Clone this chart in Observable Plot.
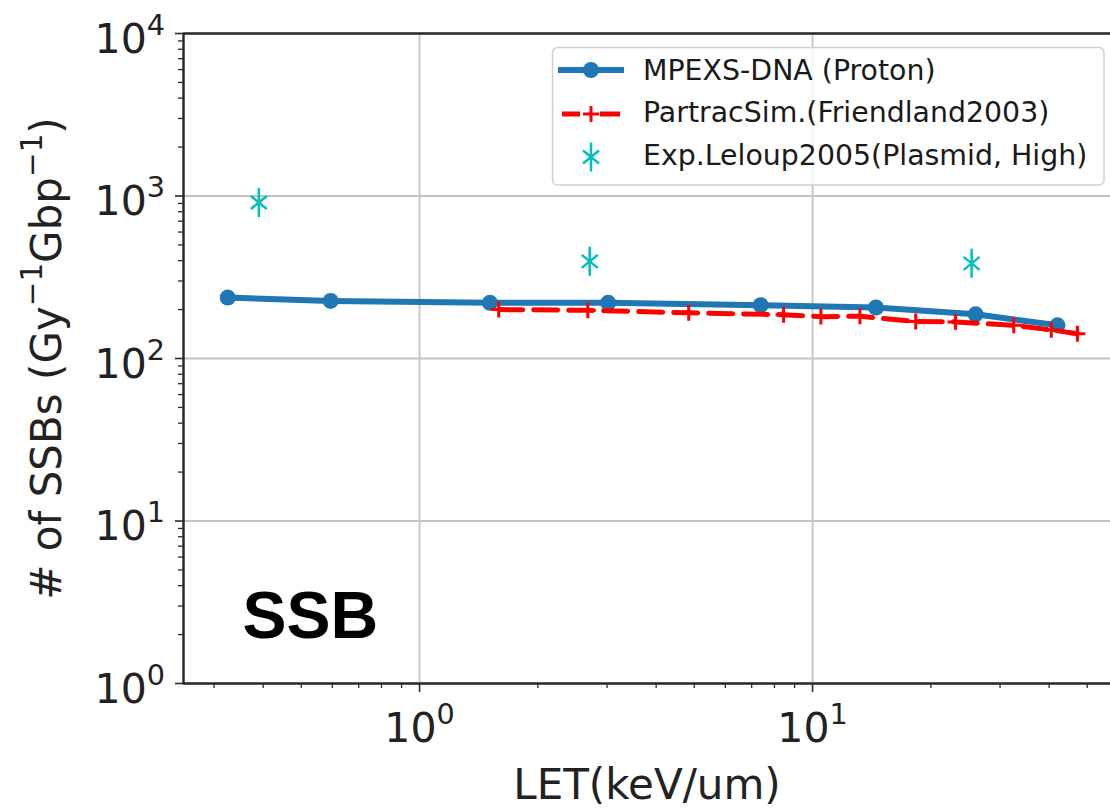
<!DOCTYPE html>
<html><head><meta charset="utf-8">
<script src="https://cdn.jsdelivr.net/npm/d3@7"></script>
<script src="https://cdn.jsdelivr.net/npm/@observablehq/plot@0.6"></script>
<style>
body{margin:0;background:#fff;}
#wrap{position:relative;width:1110px;height:809px;overflow:hidden;font-family:"DejaVu Sans",sans-serif;background:#fff;}
#legend{position:absolute;left:0;top:0;pointer-events:none;}
</style></head><body>
<div id="wrap"></div>
<script>
// ---- data ----
const mpexsLET = [0.325, 0.594, 1.51, 3.02, 7.38, 14.5, 26.0, 42.0];
const mpexsSSB = [237, 226, 220, 220, 213, 206, 187, 160];

const partracLET = [1.59, 2.68, 4.84, 8.44, 10.5, 13.2, 18.3, 23.1, 32.5, 40.5, 47.2];
const partracSSB = [200, 198, 191, 186, 181, 182, 169, 168, 160, 150, 142];

const leloupLET = [0.39, 2.71, 25.4];
const leloupSSB = [912, 396, 385];

const seriesNames = ["MPEXS-DNA (Proton)", "PartracSim.(Friendland2003)", "Exp.Leloup2005(Plasmid, High)"];

const xDomain = [0.2508, 57.3];
const yDomain = [1, 10000];
const xMajor = [1, 10];
const xMajorLabels = ["10^{0}", "10^{1}"];
const yMajor = [1, 10, 100, 1000, 10000];
const yMajorLabels = ["10^{0}", "10^{1}", "10^{2}", "10^{3}", "10^{4}"];
const xLabel = "LET(keV/um)";
const yLabel = "# of SSBs (Gy^{−1}Gbp^{−1})";
const panelLabel = "SSB";

// minor tick positions (2..9 × decades)
const xMinor = [], yMinor = [];
for (const dec of [0.1, 1, 10]) for (let k = 2; k <= 9; k++) { const v = k * dec; if (v > xDomain[0] && v < xDomain[1]) xMinor.push(v); }
for (const dec of [1, 10, 100, 1000]) for (let k = 2; k <= 9; k++) yMinor.push(k * dec);

const mpexs = mpexsLET.map((x, i) => ({x, y: mpexsSSB[i]}));
const partrac = partracLET.map((x, i) => ({x, y: partracSSB[i]}));
const leloup = leloupLET.map((x, i) => ({x, y: leloupSSB[i]}));

const BLUE = "#1f77b4", RED = "#ff0000", CYAN = "#00bfbf";
const starPath = "M0,-14.5L0,14.5M-8,-6.5L8,6.5M-8,6.5L8,-6.5";
const leloupSymbol = {draw(ctx) {
  ctx.moveTo(0, -14.5); ctx.lineTo(0, 14.5);
  ctx.moveTo(-8, -6.5); ctx.lineTo(8, 6.5);
  ctx.moveTo(-8, 6.5); ctx.lineTo(8, -6.5);
}};

const AX = "#2a2a2a";
const chart = Plot.plot({
  width: 1110, height: 809,
  marginLeft: 183, marginRight: 0, marginTop: 33, marginBottom: 126,
  style: {fontFamily: "DejaVu Sans", background: "#fff", color: "#222", overflow: "visible"},
  x: {type: "log", domain: xDomain},
  y: {type: "log", domain: yDomain},
  marks: [
    Plot.gridX(xMajor, {stroke: "#c4c4c4", strokeOpacity: 1, strokeWidth: 1.8}),
    Plot.gridY(yMajor, {stroke: "#c4c4c4", strokeOpacity: 1, strokeWidth: 1.8}),
    Plot.axisX(xMinor, {tickSize: 5, text: null, label: null, stroke: AX, strokeWidth: 1.3}),
    Plot.axisX(xMajor, {tickSize: 9, tickPadding: 20, label: null, fontSize: 41, stroke: AX, strokeWidth: 1.6,
      tickFormat: d => xMajorLabels[xMajor.indexOf(d)]}),
    Plot.axisY(yMinor, {tickSize: 5, text: null, label: null, stroke: AX, strokeWidth: 1.3}),
    Plot.axisY(yMajor, {tickSize: 8, tickPadding: 10.5, label: null, fontSize: 41, stroke: AX, strokeWidth: 1.6,
      tickFormat: d => yMajorLabels[yMajor.indexOf(d)]}),
    Plot.ruleX([xDomain[0]], {stroke: AX, strokeWidth: 2.5}),
    Plot.ruleY([yDomain[0], yDomain[1]], {stroke: AX, strokeWidth: 2.5}),
    Plot.line(mpexs, {x: "x", y: "y", stroke: BLUE, strokeWidth: 6}),
    Plot.dot(mpexs, {x: "x", y: "y", r: 8, fill: BLUE, stroke: "none"}),
    Plot.line(partrac, {x: "x", y: "y", stroke: RED, strokeWidth: 5, strokeDasharray: "24,11"}),
    Plot.dot(partrac, {x: "x", y: "y", symbol: "plus", r: 5.2, fill: "none", stroke: RED, strokeWidth: 3}),
    Plot.dot(leloup, {x: "x", y: "y", symbol: leloupSymbol, r: 5, fill: "none", stroke: CYAN, strokeWidth: 2.5}),
    Plot.text([xLabel], {text: d => d, frameAnchor: "bottom", textAnchor: "middle", lineAnchor: "bottom", dy: 115, fontSize: 42, fill: "#222"}),
    Plot.text([yLabel], {text: d => d, frameAnchor: "left", textAnchor: "middle", lineAnchor: "bottom", rotate: -90, dx: -123, fontSize: 42, fill: "#222"}),
    Plot.text([panelLabel], {text: d => d, frameAnchor: "bottom-left", textAnchor: "start", lineAnchor: "bottom",
      dx: 59, dy: -46, fontSize: 66, fontWeight: "bold", fontFamily: "Liberation Sans, Arial, sans-serif", fill: "#000"})
  ]
});

const wrap = document.getElementById("wrap");
wrap.appendChild(chart);

// y tick labels: centre like matplotlib (bbox including superscript)
chart.querySelectorAll('g[aria-label="y-axis tick label"] text').forEach(t => t.setAttribute("y", "0.47em"));

// superscripts ^{...}
function supify(root) {
  root.querySelectorAll("text").forEach(el => {
    const s = el.textContent;
    if (!s.includes("^{")) return;
    const fs = parseFloat(getComputedStyle(el).fontSize);
    const rise = 0.44 * fs;
    el.textContent = "";
    const re = /\^\{([^}]*)\}/g;
    let last = 0, m, raised = false;
    const add = (txt, sup) => {
      if (!txt) return;
      const t = document.createElementNS("http://www.w3.org/2000/svg", "tspan");
      t.textContent = txt;
      if (sup) { t.setAttribute("font-size", (0.7 * fs) + "px"); if (!raised) { t.setAttribute("dy", -rise); raised = true; } }
      else if (raised) { t.setAttribute("dy", rise); raised = false; }
      el.appendChild(t);
    };
    while ((m = re.exec(s))) { add(s.slice(last, m.index), false); add(m[1], true); last = re.lastIndex; }
    add(s.slice(last), false);
  });
}
supify(chart);

// legend (inside the axes, upper right, like matplotlib)
const leg = d3.select(wrap).append("svg").attr("id", "legend").attr("width", 1110).attr("height", 809);
leg.append("rect").attr("x", 552.5).attr("y", 47.5).attr("width", 551.5).attr("height", 137.5).attr("rx", 5)
  .attr("fill", "#fff").attr("fill-opacity", 0.8).attr("stroke", "#d0d0d0").attr("stroke-width", 1.5);
// row 1
leg.append("line").attr("x1", 558).attr("x2", 624).attr("y1", 70).attr("y2", 70).attr("stroke", BLUE).attr("stroke-width", 6);
leg.append("circle").attr("cx", 591).attr("cy", 70).attr("r", 8).attr("fill", BLUE);
// row 2
leg.append("line").attr("x1", 562).attr("x2", 620).attr("y1", 114).attr("y2", 114).attr("stroke", RED).attr("stroke-width", 5).attr("stroke-dasharray", "18,20,20");
leg.append("path").attr("d", "M583,114L599,114M591,106L591,122").attr("stroke", RED).attr("stroke-width", 3).attr("fill", "none");
// row 3
leg.append("path").attr("d", starPath).attr("transform", "translate(591,157)").attr("stroke", CYAN).attr("stroke-width", 2.5).attr("fill", "none");
const legY = [80, 122, 165];
seriesNames.forEach((n, i) => {
  leg.append("text").attr("x", 643).attr("y", legY[i]).attr("font-family", "DejaVu Sans").attr("font-size", 28.4).attr("fill", "#1a1a1a").text(n);
});
</script>
</body></html>
